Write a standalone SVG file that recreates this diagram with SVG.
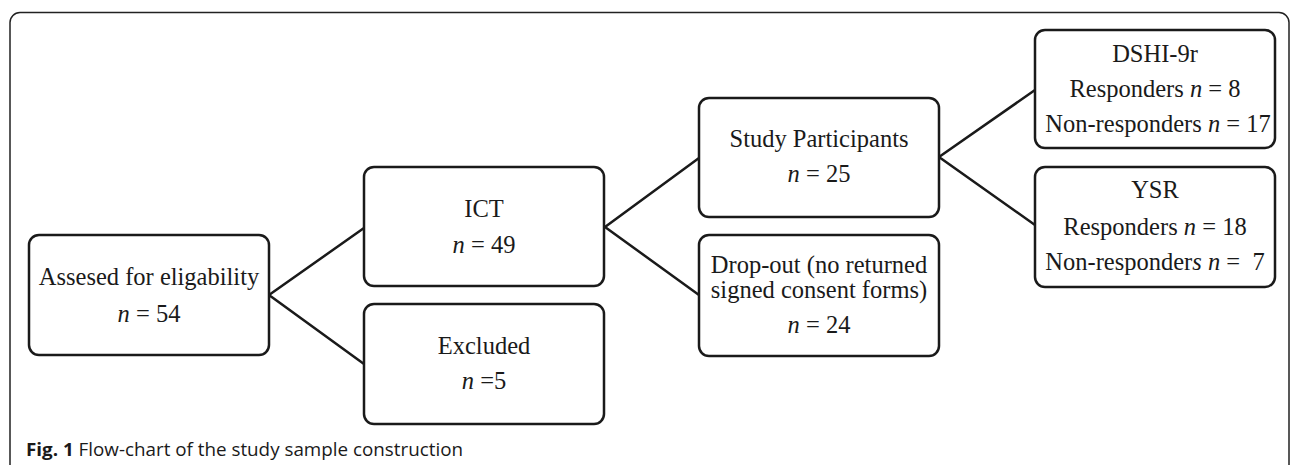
<svg xmlns="http://www.w3.org/2000/svg" width="1290" height="465" viewBox="0 0 1290 465">
<style>
.box{fill:#fff;stroke:#1a1a1a;stroke-width:2.5}
.t{font-family:"Liberation Serif","Times New Roman",serif;font-size:24.5px;fill:#1a1a1a;text-anchor:middle}
.i{font-style:italic}
.c{stroke:#1a1a1a;stroke-width:2.5;fill:none}
.cap{font-family:"Open Sans","Noto Sans",sans-serif;font-size:18px;fill:#1a1a1a}
</style>
<rect width="1290" height="465" fill="#fff"/>
<rect x="10" y="12.5" width="1279" height="500" rx="10" fill="none" stroke="#222" stroke-width="1.5"/>
<g id="connectors">
<polyline class="c" points="364,228 269,295 364,364"/>
<polyline class="c" points="699,158 605,227 699,295"/>
<polyline class="c" points="1035,90 939,157 1035,225"/>
</g>
<g id="assessed">
<rect class="box" x="29" y="235" width="240" height="120" rx="10"/>
<text class="t" x="149" y="285">Assesed for eligability</text>
<text class="t" x="149" y="322"><tspan class="i">n</tspan> = 54</text>
</g>
<g id="ict">
<rect class="box" x="364" y="167" width="240" height="119" rx="10"/>
<text class="t" x="484" y="217">ICT</text>
<text class="t" x="484" y="253"><tspan class="i">n</tspan> = 49</text>
</g>
<g id="excluded">
<rect class="box" x="364" y="304" width="240" height="120" rx="10"/>
<text class="t" x="484" y="354">Excluded</text>
<text class="t" x="484" y="389"><tspan class="i">n</tspan> =5</text>
</g>
<g id="study">
<rect class="box" x="699" y="98" width="240" height="119" rx="10"/>
<text class="t" x="819" y="147">Study Participants</text>
<text class="t" x="819" y="182"><tspan class="i">n</tspan> = 25</text>
</g>
<g id="dropout">
<rect class="box" x="699" y="235" width="240" height="121" rx="10"/>
<text class="t" x="819" y="273">Drop-out (no returned</text>
<text class="t" x="819" y="298">signed consent forms)</text>
<text class="t" x="819" y="333"><tspan class="i">n</tspan> = 24</text>
</g>
<g id="dshi">
<rect class="box" x="1035" y="30" width="240" height="118" rx="10"/>
<text class="t" x="1155" y="62">DSHI-9r</text>
<text class="t" x="1155" y="97">Responders <tspan class="i">n</tspan> = 8</text>
<text class="t" x="1158" y="132">Non-responders <tspan class="i">n</tspan> = 17</text>
</g>
<g id="ysr">
<rect class="box" x="1035" y="167" width="240" height="120" rx="10"/>
<text class="t" x="1155" y="198">YSR</text>
<text class="t" x="1155" y="235">Responders <tspan class="i">n</tspan> = 18</text>
<text class="t" x="1155" y="270" xml:space="preserve">Non-responder<tspan class="i">s n</tspan> =  7</text>
</g>
<text class="cap" x="26" y="456" textLength="437" lengthAdjust="spacingAndGlyphs"><tspan font-weight="bold">Fig. 1</tspan> Flow-chart of the study sample construction</text>
</svg>
